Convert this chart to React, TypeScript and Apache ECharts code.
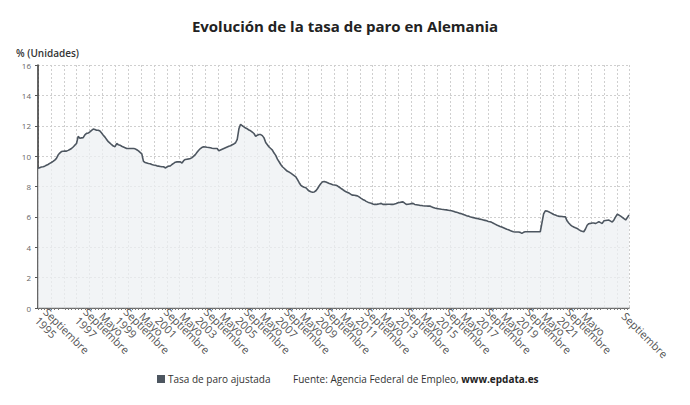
import React, { useEffect, useRef } from "react";
import * as echarts from "echarts";

const monthNames = ["Enero","Febrero","Marzo","Abril","Mayo","Junio","Julio","Agosto","Septiembre","Octubre","Noviembre","Diciembre"];

// Monthly values, January 1995 onward (one row per year)
const y1995 = [9.2, 9.24, 9.28, 9.3, 9.34, 9.4, 9.45, 9.52, 9.58, 9.65, 9.74, 9.85];
const y1996 = [10.07, 10.2, 10.3, 10.32, 10.33, 10.33, 10.38, 10.44, 10.5, 10.6, 10.72, 10.83];
const y1997 = [11.3, 11.18, 11.2, 11.22, 11.4, 11.5, 11.52, 11.6, 11.7, 11.78, 11.75, 11.7];
const y1998 = [11.7, 11.65, 11.52, 11.38, 11.25, 11.1, 10.95, 10.85, 10.75, 10.66, 10.62, 10.83];
const y1999 = [10.75, 10.72, 10.65, 10.6, 10.55, 10.5, 10.5, 10.5, 10.5, 10.5, 10.48, 10.42];
const y2000 = [10.35, 10.25, 10.15, 9.65, 9.58, 9.55, 9.52, 9.5, 9.45, 9.42, 9.4, 9.36];
const y2001 = [9.34, 9.32, 9.3, 9.3, 9.22, 9.28, 9.34, 9.35, 9.45, 9.52, 9.6, 9.62];
const y2002 = [9.63, 9.62, 9.55, 9.7, 9.78, 9.8, 9.82, 9.85, 9.9, 10.0, 10.1, 10.25];
const y2003 = [10.39, 10.5, 10.58, 10.61, 10.6, 10.58, 10.57, 10.55, 10.52, 10.5, 10.5, 10.5];
const y2004 = [10.35, 10.4, 10.45, 10.5, 10.55, 10.6, 10.65, 10.68, 10.75, 10.8, 10.88, 11.1];
const y2005 = [11.8, 12.1, 12.0, 11.93, 11.85, 11.8, 11.72, 11.67, 11.58, 11.49, 11.3, 11.38];
const y2006 = [11.42, 11.42, 11.35, 11.2, 10.9, 10.75, 10.6, 10.5, 10.4, 10.2, 10.05, 9.8];
const y2007 = [9.63, 9.45, 9.3, 9.2, 9.1, 9.0, 8.95, 8.88, 8.8, 8.72, 8.64, 8.45];
const y2008 = [8.25, 8.08, 8.0, 7.95, 7.92, 7.8, 7.7, 7.65, 7.62, 7.64, 7.72, 7.87];
const y2009 = [8.05, 8.2, 8.31, 8.32, 8.3, 8.25, 8.2, 8.16, 8.12, 8.1, 8.08, 8.03];
const y2010 = [7.95, 7.87, 7.8, 7.72, 7.65, 7.6, 7.55, 7.48, 7.43, 7.42, 7.4, 7.37];
const y2011 = [7.3, 7.22, 7.15, 7.1, 7.02, 6.97, 6.93, 6.9, 6.85, 6.82, 6.82, 6.84];
const y2012 = [6.86, 6.89, 6.82, 6.82, 6.82, 6.83, 6.83, 6.82, 6.82, 6.85, 6.88, 6.93];
const y2013 = [6.95, 6.97, 6.99, 6.9, 6.82, 6.83, 6.85, 6.87, 6.89, 6.82, 6.8, 6.78];
const y2014 = [6.76, 6.75, 6.73, 6.72, 6.72, 6.71, 6.71, 6.66, 6.62, 6.58, 6.56, 6.54];
const y2015 = [6.52, 6.5, 6.49, 6.47, 6.46, 6.44, 6.42, 6.4, 6.37, 6.33, 6.3, 6.27];
const y2016 = [6.23, 6.2, 6.16, 6.12, 6.08, 6.05, 6.01, 5.98, 5.95, 5.92, 5.9, 5.88];
const y2017 = [5.85, 5.83, 5.8, 5.77, 5.74, 5.7, 5.68, 5.64, 5.58, 5.52, 5.46, 5.42];
const y2018 = [5.37, 5.33, 5.28, 5.23, 5.18, 5.15, 5.1, 5.06, 5.02, 5.0, 5.0, 5.0];
const y2019 = [4.98, 4.91, 4.98, 5.02, 5.02, 5.02, 5.02, 5.02, 5.02, 5.02, 5.02, 5.02];
const y2020 = [5.02, 5.6, 6.2, 6.4, 6.38, 6.34, 6.28, 6.22, 6.16, 6.12, 6.08, 6.05];
const y2021 = [6.03, 6.02, 6.01, 6.0, 5.74, 5.6, 5.48, 5.39, 5.33, 5.28, 5.24, 5.16];
const y2022 = [5.09, 5.05, 5.02, 5.2, 5.45, 5.55, 5.57, 5.6, 5.6, 5.57, 5.62, 5.68];
const y2023 = [5.62, 5.57, 5.74, 5.76, 5.78, 5.79, 5.72, 5.66, 5.8, 6.0, 6.17, 6.12];
const y2024 = [6.05, 5.97, 5.88, 5.8, 5.95, 6.12];

const yearRows = [y1995, y1996, y1997, y1998, y1999, y2000, y2001, y2002, y2003, y2004,
  y2005, y2006, y2007, y2008, y2009, y2010, y2011, y2012, y2013, y2014,
  y2015, y2016, y2017, y2018, y2019, y2020, y2021, y2022, y2023, y2024];
const firstYear = 1995;

const tickLabels = [
  "Septiembre\n1995", "Mayo", "Septiembre\n1997", "Mayo", "Septiembre\n1999", "Mayo",
  "Septiembre\n2001", "Mayo", "Septiembre\n2003", "Mayo", "Septiembre\n2005", "Mayo",
  "Septiembre\n2007", "Mayo", "Septiembre\n2009", "Mayo", "Septiembre\n2011", "Mayo",
  "Septiembre\n2013", "Mayo", "Septiembre\n2015", "Mayo", "Septiembre\n2017", "Mayo",
  "Septiembre\n2019", "Mayo", "Septiembre\n2021", "Mayo", "Septiembre\n2023", "Septiembre"
];
const firstTickIndex = 2;
const tickStep = 12;

const seriesName = "Tasa de paro ajustada";
const titleText = "Evolución de la tasa de paro en Alemania";
const unitText = "% (Unidades)";

export default function App() {
  const ref = useRef<HTMLDivElement>(null);
  useEffect(() => {
    if (!ref.current) return;
    const chart = echarts.init(ref.current, null, { renderer: "svg" });
    const categories: string[] = [];
    const values: number[] = [];
    yearRows.forEach((row, yi) => {
      row.forEach((v, mi) => {
        categories.push(monthNames[mi] + " " + (firstYear + yi));
        values.push(v);
      });
    });
    const isLabelIdx = (i: number) => i >= firstTickIndex && (i - firstTickIndex) % tickStep === 0;
    const font = "'Open Sans', 'Noto Sans', sans-serif";
    chart.setOption({
      animation: false,
      backgroundColor: "#ffffff",
      textStyle: { fontFamily: font },
      title: {
        text: titleText,
        left: "center",
        top: 13,
        textStyle: { fontSize: 15, fontWeight: "bold", color: "#222", fontFamily: font },
      },
      legend: {
        left: 157,
        top: 374,
        padding: 0,
        icon: "rect",
        itemWidth: 8,
        itemHeight: 8,
        itemGap: 6,
        textStyle: { fontSize: 10, color: "#333", fontFamily: font, padding: [0, 0, 0, -2] },
        data: [seriesName],
      },
      graphic: [
        {
          type: "text",
          left: 16,
          top: 48,
          style: { text: unitText, fontSize: 10, fontWeight: 600, fill: "#333", fontFamily: font },
        },
        {
          type: "text",
          left: 293,
          top: 374,
          style: {
            text: "{a|Fuente: Agencia Federal de Empleo, }{b|www.epdata.es}",
            fontFamily: font,
            rich: {
              a: { fontSize: 10, fill: "#333", fontFamily: font },
              b: { fontSize: 10, fill: "#222", fontWeight: "bold", fontFamily: font },
            },
          },
        },
      ],
      grid: { left: 38, right: 61, top: 65, bottom: 97, containLabel: false },
      xAxis: [
        {
          type: "category",
          data: categories,
          boundaryGap: false,
          axisLine: { show: true, onZero: false, lineStyle: { color: "#444", width: 1.5 } },
          axisTick: {
            show: true,
            interval: (i: number) => i % 2 === 0,
            length: 2,
            lineStyle: { color: "#777" },
          },
          axisLabel: {
            show: true,
            interval: (i: number) => isLabelIdx(i),
            formatter: (_v: string, i: number) => (isLabelIdx(i) ? tickLabels[(i - firstTickIndex) / tickStep] ?? "" : ""),
            rotate: -45,
            fontSize: 11,
            lineHeight: 12,
            color: "#555",
            margin: 6,
            showMinLabel: true,
            showMaxLabel: true,
            hideOverlap: false,
            fontFamily: font,
          },
          splitLine: { show: false },
        },
        {
          type: "value",
          min: -0.544,
          max: 45.376,
          interval: 1,
          position: "bottom",
          axisLine: { show: false, onZero: false },
          axisTick: { show: false },
          axisLabel: { show: false },
          splitLine: { show: true, lineStyle: { color: "#cfcfcf", type: [2, 2], width: 1 } },
        },
      ],
      yAxis: {
        type: "value",
        min: 0,
        max: 16,
        interval: 2,
        axisLine: { show: true, onZero: false, lineStyle: { color: "#333", width: 1.5 } },
        axisTick: { show: true, length: 3, lineStyle: { color: "#555" } },
        axisLabel: { fontSize: 8, color: "#666", margin: 7, fontFamily: font },
        splitLine: { show: true, lineStyle: { color: "#cfcfcf", type: [2, 2], width: 1 } },
      },
      series: [
        {
          name: seriesName,
          type: "line",
          data: values,
          xAxisIndex: 0,
          showSymbol: false,
          symbol: "none",
          color: "#4d5660",
          lineStyle: { color: "#4d5660", width: 1.6 },
          areaStyle: { color: "#eef0f3", opacity: 0.75 },
        },
      ],
    });
    return () => chart.dispose();
  }, []);
  return <div ref={ref} style={{ width: 690, height: 405, position: "absolute", left: 0, top: 0 }} />;
}
